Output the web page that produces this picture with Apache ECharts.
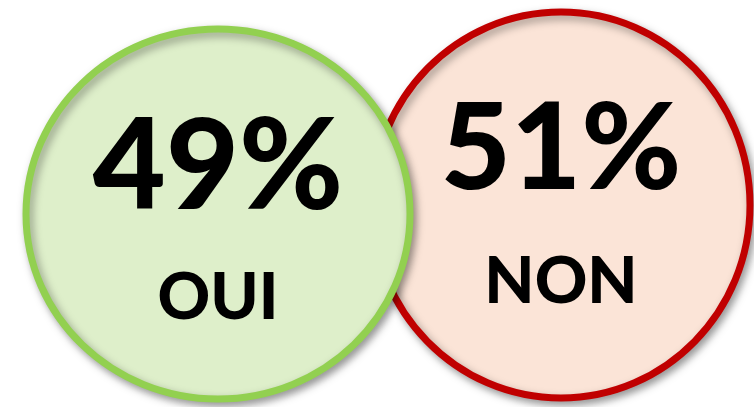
<!DOCTYPE html>
<html>
<head>
<meta charset="utf-8">
<script src="https://cdn.jsdelivr.net/npm/echarts@6/dist/echarts.min.js"></script>
<style>
  html, body { margin: 0; padding: 0; background: #fff; }
  #chart { width: 754px; height: 407px; }
</style>
</head>
<body>
<div id="chart"></div>
<script>
// data
const categories = ['OUI', 'NON']
const percents = [49, 51]

// styles per bubble
const fills = ['#DEEFCA', '#FBE4D7']
const strokes = ['#92D050', '#C00000']
const centerY = [214, 205]
const radiusX = [192, 189]
const radiusY = [185, 193]
const pctFont = ['900 126px Lato', '900 121px Lato']
const pctY = [168, 150]
const nameFont = '900 65px Lato'
const nameY = [298, 282]

var myChart = echarts.init(document.getElementById('chart'))
var option = {
  animation: false,
  grid: { left: 46.5, width: 686, top: 0, bottom: 0 },
  xAxis: { type: 'category', data: categories, show: false },
  yAxis: { type: 'value', min: 0, max: 100, show: false },
  series: [
    {
      type: 'custom',
      data: percents.map((v, i) => [i, v]),
      renderItem: (params, api) => {
        var i = params.dataIndex
        var cx = api.coord([i, 0])[0]
        var z = i === 0 ? 100 : 0
        return {
          type: 'group',
          children: [
            {
              type: 'ellipse',
              z2: z,
              shape: { cx: cx, cy: centerY[i], rx: radiusX[i], ry: radiusY[i] },
              style: {
                fill: fills[i],
                stroke: strokes[i],
                lineWidth: 7,
                shadowBlur: 8,
                shadowOffsetX: 3,
                shadowOffsetY: 4,
                shadowColor: 'rgba(0,0,0,0.35)'
              }
            },
            {
              type: 'text',
              z2: z + 1,
              style: {
                text: api.value(1) + '%',
                x: cx, y: pctY[i],
                font: pctFont[i],
                fill: '#000',
                align: 'center',
                verticalAlign: 'middle'
              }
            },
            {
              type: 'text',
              z2: z + 1,
              style: {
                text: categories[i],
                x: cx, y: nameY[i],
                font: nameFont,
                fill: '#000',
                align: 'center',
                verticalAlign: 'middle'
              }
            }
          ]
        }
      }
    }
  ]
}
myChart.setOption(option)
</script>
</body>
</html>
